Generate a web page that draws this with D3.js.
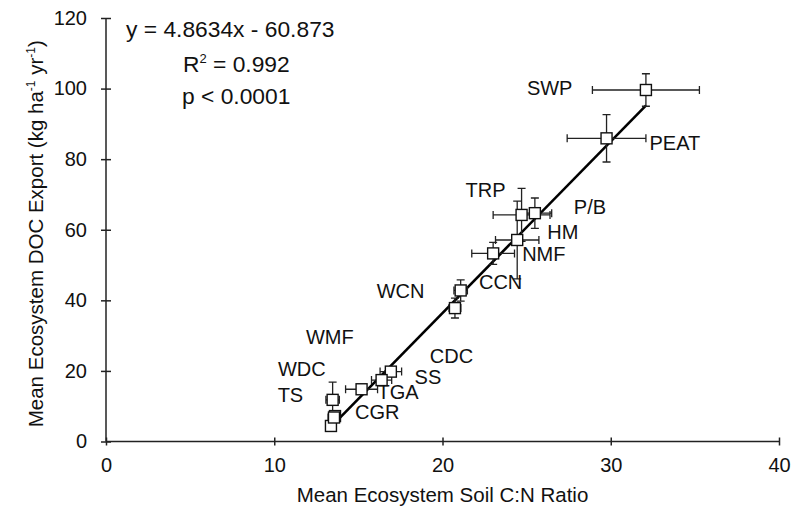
<!DOCTYPE html>
<html>
<head>
<meta charset="utf-8">
<script src="https://cdn.jsdelivr.net/npm/d3@7"></script>
<style>
  body { margin: 0; background: #fff; }
  svg { display: block; }
  text { font-family: "Liberation Sans", Arial, Helvetica, sans-serif; fill: #111; }
</style>
</head>
<body>
<svg id="chart" width="796" height="510"></svg>
<script>
// Ecosystem means: soil C:N ratio vs. DOC export, with error bars
const sites     = ["SWP", "PEAT", "TRP", "P/B", "HM", "NMF", "WCN", "CCN", "CDC", "SS", "TGA", "TS", "CGR", "WDC", "WMF"];
const soilCN    = [32.09, 29.75, 24.70, 25.49, 24.44, 23.01, 21.08, 20.74, 16.93, 16.38, 15.19, 13.47, 13.61, 13.37, 13.55];
const docExport = [99.6, 85.9, 64.2, 64.7, 57.1, 53.3, 42.8, 37.8, 19.8, 17.4, 14.8, 11.8, 7.2, 4.4, 6.8];
const cnError   = [3.18, 2.34, 1.69, 1.0, 1.29, 1.27, 0.4, 0.35, 0.64, 0.6, 0.95, 0.4, 0.3, 0.3, 0.35];
const docError  = [4.6, 6.7, 7.5, 4.3, 11.0, 3.1, 3.0, 2.8, 1.0, 1.0, 0.5, 5.0, 1.0, 0.8, 0.8];

const xTicks = [0, 10, 20, 30, 40];
const yTicks = [0, 20, 40, 60, 80, 100, 120];

// Least-squares fit printed on the chart
const fitSlope = 4.8634;
const fitIntercept = -60.873;
const fitR2 = "0.992";
const fitP = "0.0001";
const fitRange = [13.37, 32.1];

const svg = d3.select("#chart");
const x = d3.scaleLinear().domain([0, 40]).range([106, 779]);
const y = d3.scaleLinear().domain([0, 120]).range([441.5, 18]);

const points = sites.map((s, i) => ({
  site: s, cn: soilCN[i], doc: docExport[i], ecn: cnError[i], edoc: docError[i]
}));

// Axes with ticks that cross the axis line
const xAxis = svg.append("g")
  .attr("transform", `translate(0,${y(0)})`)
  .call(d3.axisBottom(x).tickValues(xTicks).tickFormat(d3.format("d")).tickSize(4).tickPadding(12));
xAxis.selectAll(".tick line").attr("y1", -4).attr("y2", 4);
xAxis.select(".domain").attr("d", `M${x(0)},0H${x(40)}`);

const yAxis = svg.append("g")
  .attr("transform", `translate(${x(0)},0)`)
  .call(d3.axisLeft(y).tickValues(yTicks).tickFormat(d3.format("d")).tickSize(4).tickPadding(15));
yAxis.selectAll(".tick line").attr("x1", -5).attr("x2", 5);
yAxis.select(".domain").attr("d", `M0,${y(0)}V${y(120)}`);

svg.selectAll(".domain, .tick line").attr("stroke", "#222").attr("stroke-width", 1.5);
svg.selectAll(".tick text").style("font-size", "20px")
  .style("font-family", "'Liberation Sans', Arial, sans-serif").attr("fill", "#111");

// Axis titles
svg.append("text")
  .attr("x", (x(0) + x(40)) / 2).attr("y", 502)
  .attr("text-anchor", "middle").style("font-size", "20.5px")
  .text("Mean Ecosystem Soil C:N Ratio");

const yTitle = svg.append("text")
  .attr("transform", `translate(43,${(y(0) + y(120)) / 2 + 4}) rotate(-90)`)
  .attr("text-anchor", "middle").style("font-size", "20.5px");
yTitle.append("tspan").text("Mean Ecosystem DOC Export (kg ha");
yTitle.append("tspan").attr("dy", -8).style("font-size", "12px").text("-1");
yTitle.append("tspan").attr("dy", 8).text(" yr");
yTitle.append("tspan").attr("dy", -8).style("font-size", "12px").text("-1");
yTitle.append("tspan").attr("dy", 8).text(")");

// Regression line
svg.append("line")
  .attr("x1", x(fitRange[0])).attr("y1", y(fitSlope * fitRange[0] + fitIntercept))
  .attr("x2", x(fitRange[1])).attr("y2", y(fitSlope * fitRange[1] + fitIntercept))
  .attr("stroke", "#000").attr("stroke-width", 2.6);

// Error bars
const bars = svg.append("g").attr("stroke", "#222").attr("stroke-width", 1.3).attr("fill", "none");
const cap = 4;
points.forEach(p => {
  const cx = x(p.cn), cy = y(p.doc);
  const xl = x(p.cn - p.ecn), xr = x(p.cn + p.ecn);
  const yt = y(p.doc + p.edoc), yb = y(p.doc - p.edoc);
  bars.append("path").attr("d",
    `M${xl},${cy}H${xr}M${xl},${cy - cap}V${cy + cap}M${xr},${cy - cap}V${cy + cap}` +
    `M${cx},${yt}V${yb}M${cx - cap},${yt}H${cx + cap}M${cx - cap},${yb}H${cx + cap}`);
});

// Point markers: open squares
const box = 11;
svg.append("g").selectAll("rect").data(points).join("rect")
  .attr("x", d => x(d.cn) - box / 2).attr("y", d => y(d.doc) - box / 2)
  .attr("width", box).attr("height", box)
  .attr("fill", "#fff").attr("stroke", "#111").attr("stroke-width", 1.4);

// Site labels, offset from their markers (dx to text start, dy to baseline)
const labelOffset = {
  "SWP": [-119, 5], "PEAT": [43, 12], "TRP": [-56, -18], "P/B": [39, 1],
  "HM": [30, -1], "NMF": [29, 8], "WCN": [-84, 8], "CCN": [24, -19],
  "CDC": [39, -9], "SS": [33, 4], "TGA": [16, 10], "TS": [-55, 2],
  "CGR": [20, 3], "WDC": [-53, -50], "WMF": [-28, -74]
};
svg.append("g").selectAll("text").data(points).join("text")
  .attr("x", d => x(d.cn) + labelOffset[d.site][0])
  .attr("y", d => y(d.doc) + labelOffset[d.site][1])
  .style("font-size", "20px")
  .text(d => d.site);

// Fit statistics
const stats = svg.append("g").style("font-size", "22.8px");
stats.append("text").attr("x", 126).attr("y", 37)
  .text(`y = ${fitSlope}x - ${Math.abs(fitIntercept)}`);
const r2 = stats.append("text").attr("x", 183).attr("y", 72);
r2.append("tspan").text("R");
r2.append("tspan").attr("dy", -9).style("font-size", "13px").text("2");
r2.append("tspan").attr("dy", 9).text(` = ${fitR2}`);
stats.append("text").attr("x", 182).attr("y", 104).text(`p < ${fitP}`);
</script>
</body>
</html>
